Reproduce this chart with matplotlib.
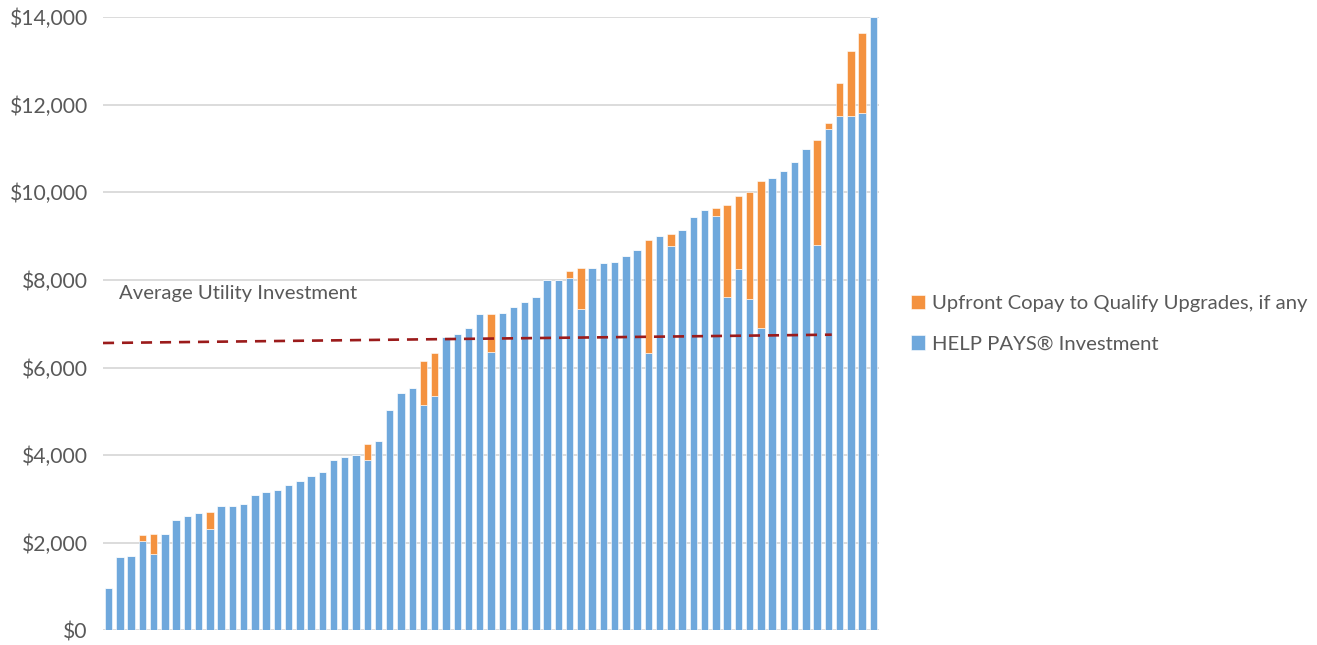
import numpy as np
import matplotlib
matplotlib.use("Agg")
import matplotlib.pyplot as plt
from matplotlib.ticker import FuncFormatter

# HELP PAYS investment per project (sorted by total)
help_pays = [970, 1670, 1700, 2045, 1750, 2210, 2515, 2615, 2685, 2310,
             2835, 2835, 2875, 3095, 3155, 3215, 3330, 3400, 3535, 3625,
             3900, 3955, 4010, 3880, 4325, 5025, 5415, 5525, 5140, 5360,
             6705, 6760, 6910, 7215, 6365, 7235, 7390, 7490, 7615, 7990,
             8005, 8040, 7345, 8280, 8385, 8400, 8550, 8680, 6340, 9000,
             8765, 9130, 9435, 9585, 9470, 7610, 8240, 7555, 6900, 10330,
             10480, 10690, 10985, 8790, 11450, 11745, 11745, 11805, 14000]

# upfront copay stacked on top (0 where none)
copay = [0, 0, 0, 135, 455, 0, 0, 0, 0, 390,
         0, 0, 0, 0, 0, 0, 0, 0, 0, 0,
         0, 0, 0, 370, 0, 0, 0, 0, 1000, 970,
         0, 0, 0, 0, 850, 0, 0, 0, 0, 0,
         0, 155, 920, 0, 0, 0, 0, 0, 2560, 0,
         290, 0, 0, 0, 160, 2110, 1665, 2445, 3350, 0,
         0, 0, 0, 2395, 140, 750, 1470, 1830, 0]

# average utility investment trend line (start / end)
avg_x = [-0.5, 64.3]
avg_y = [6560, 6750]

yticks = [0, 2000, 4000, 6000, 8000, 10000, 12000, 14000]

BLUE = "#6FA8DC"
ORANGE = "#F4923F"
GREY = "#595959"

plt.rcParams["font.family"] = ["Lato", "DejaVu Sans"]

fig = plt.figure(figsize=(13.17, 6.45), dpi=100)
ax = fig.add_axes([0.0782, 0.0226, 0.5892, 0.951])

x = np.arange(len(help_pays))
ax.bar(x, help_pays, width=0.66, color=BLUE, edgecolor="white", linewidth=0.4,
       label="HELP PAYS\u00ae Investment", zorder=3)
ax.bar(x, copay, bottom=help_pays, width=0.66, color=ORANGE, edgecolor="white",
       linewidth=0.4, label="Upfront Copay to Qualify Upgrades, if any", zorder=3)

ax.plot(avg_x, avg_y, color="#9B1B1B", lw=1.9, dashes=(4.2, 3.0), zorder=4)
ax.text(0.95, 7690, "Average Utility Investment", color=GREY, fontsize=14.6,
        ha="left", va="center")

ax.set_xlim(-0.5, len(help_pays) - 0.5)
ax.set_ylim(0, 14000)
ax.set_yticks(yticks)
ax.yaxis.set_major_formatter(FuncFormatter(lambda v, p: f"${v:,.0f}"))
ax.tick_params(axis="y", length=0, pad=11, labelsize=15.2, labelcolor=GREY)
ax.set_xticks([])
ax.grid(axis="y", color="#D9D9D9", lw=1.3, zorder=0)
for s in ax.spines.values():
    s.set_visible(False)

h, l = ax.get_legend_handles_labels()
fig.legend(h[::-1], l[::-1], loc="center left", bbox_to_anchor=(0.6775, 0.498),
           frameon=False, fontsize=14.6, labelcolor=GREY, handlelength=0.7,
           handleheight=0.7, handletextpad=0.35, labelspacing=1.15)

fig.savefig("out.png", dpi=100)
